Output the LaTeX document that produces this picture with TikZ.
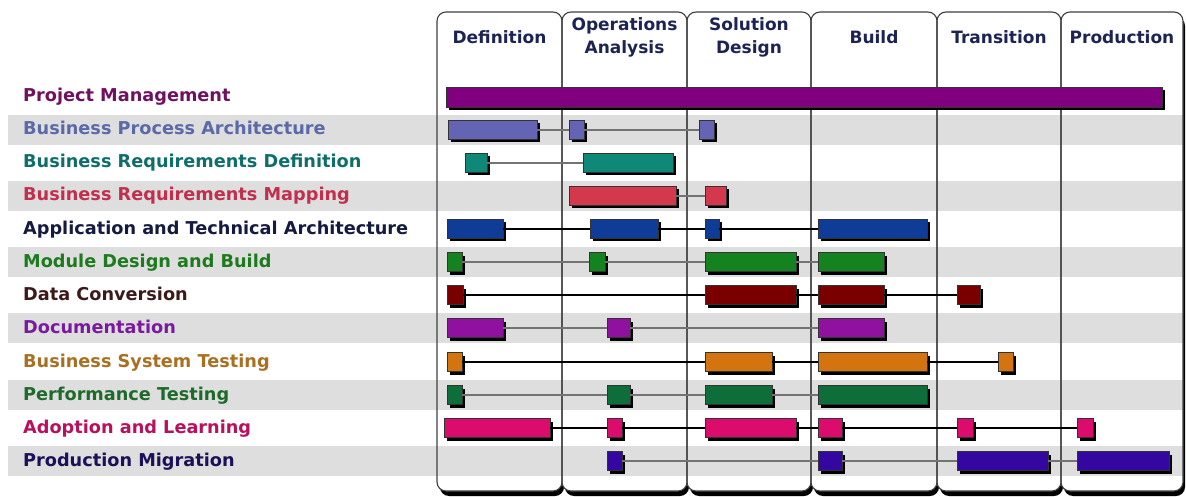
\documentclass[tikz,border=0pt]{standalone}
\usepackage{fontspec}
\setmainfont{DejaVu Sans}
\usetikzlibrary{shadows}

\definecolor{headC}{HTML}{1C2454}
\definecolor{pmC}{HTML}{800080}   \definecolor{pmL}{HTML}{701060}
\definecolor{bpaC}{HTML}{6464B4}  \definecolor{bpaL}{HTML}{5A6AA8}
\definecolor{brdC}{HTML}{108878}  \definecolor{brdL}{HTML}{0E6E6A}
\definecolor{brmC}{HTML}{D4384C}  \definecolor{brmL}{HTML}{C0304C}
\definecolor{ataC}{HTML}{0E3C96}  \definecolor{ataL}{HTML}{141A40}
\definecolor{mdbC}{HTML}{14821E}  \definecolor{mdbL}{HTML}{1E7A1E}
\definecolor{dcC}{HTML}{7A0000}   \definecolor{dcL}{HTML}{3C1A1A}
\definecolor{docC}{HTML}{9010A0}  \definecolor{docL}{HTML}{7A1AA0}
\definecolor{bstC}{HTML}{D47410}  \definecolor{bstL}{HTML}{A87020}
\definecolor{ptC}{HTML}{0E6E3A}   \definecolor{ptL}{HTML}{1E6A2A}
\definecolor{alC}{HTML}{DC0C6C}   \definecolor{alL}{HTML}{B8105C}
\definecolor{prmC}{HTML}{3408A0}  \definecolor{prmL}{HTML}{1C1058}

\begin{document}
\begin{tikzpicture}[x=1pt,y=-1pt,
  phase/.style={draw=black!75,line width=1.1pt,rounded corners=9pt},
  phaseshadow/.style={fill=black,rounded corners=9pt},
  band/.style={fill=black!13,draw=none},
  phasehead/.style={text=headC,font=\fontsize{17}{23}\selectfont\bfseries,align=center,inner sep=0},
  rowlabel/.style={anchor=base west,font=\fontsize{17.7}{20}\selectfont\bfseries,inner sep=0},
  task/.style={rectangle,inner sep=0,minimum height=19pt,draw=black!80,line width=0.6pt,fill=#1,
    drop shadow={shadow xshift=3pt,shadow yshift=-3pt,fill=black,opacity=1}},
  link/.style={draw=black,line width=1.2pt},
  glink/.style={draw=black!55,line width=1.2pt}]
\useasboundingbox (0,0) rectangle (1186,497);

% phase columns
\foreach \xa/\xb in {437/562,562/687,687/811,811/937,937/1061,1061/1183}
  \fill[phaseshadow] (\xa+3,17) rectangle (\xb+2,496);
\foreach \xa/\xb in {437/562,562/687,687/811,811/937,937/1061,1061/1183}
  \fill[white,rounded corners=9pt] (\xa,12) rectangle (\xb,491);
% grey bands
\foreach \y in {130,196,262,328,395,461}
  \fill[band] (8,\y-15) rectangle (1183,\y+15);
\foreach \xa/\xb in {437/562,562/687,687/811,811/937,937/1061,1061/1183}
  \draw[phase] (\xa,12) rectangle (\xb,491);

\node[phasehead] (hdef) at (499.5,37) {Definition};
\node[phasehead] (hops) at (624.5,37) {Operations\\Analysis};
\node[phasehead] (hsol) at (749,37) {Solution\\Design};
\node[phasehead] (hbld) at (874,37) {Build};
\node[phasehead] (htra) at (999,37) {Transition};
\node[phasehead] (hpro) at (1122,37) {Production};

\node[rowlabel,text=pmL]  (lpm)  at (23,102) {Project Management};
\node[rowlabel,text=bpaL] (lbpa) at (23,135) {Business Process Architecture};
\node[rowlabel,text=brdL] (lbrd) at (23,168) {Business Requirements Definition};
\node[rowlabel,text=brmL] (lbrm) at (23,201) {Business Requirements Mapping};
\node[rowlabel,text=ataL] (lata) at (23,234) {Application and Technical Architecture};
\node[rowlabel,text=mdbL] (lmdb) at (23,267) {Module Design and Build};
\node[rowlabel,text=dcL]  (ldc)  at (23,300) {Data Conversion};
\node[rowlabel,text=docL] (ldoc) at (23,333) {Documentation};
\node[rowlabel,text=bstL] (lbst) at (23,367) {Business System Testing};
\node[rowlabel,text=ptL]  (lpt)  at (23,400) {Performance Testing};
\node[rowlabel,text=alL]  (lal)  at (23,433) {Adoption and Learning};
\node[rowlabel,text=prmL] (lprm) at (23,466) {Production Migration};

\node[task=pmC,minimum width=716,minimum height=20pt] (pm) at (804,97) {};

\node[task=bpaC,minimum width=89] (bpa1) at (492.5,130) {};
\node[task=bpaC,minimum width=15] (bpa2) at (576.5,130) {};
\node[task=bpaC,minimum width=15] (bpa3) at (706.5,130) {};
\draw[glink] (bpa1) -- (bpa2) -- (bpa3);

\node[task=brdC,minimum width=22] (brd1) at (476,163) {};
\node[task=brdC,minimum width=90] (brd2) at (628,163) {};
\draw[glink] (brd1) -- (brd2);

\node[task=brmC,minimum width=107] (brm1) at (622.5,196) {};
\node[task=brmC,minimum width=21] (brm2) at (715.5,196) {};
\draw[glink] (brm1) -- (brm2);

\node[task=ataC,minimum width=56] (ata1) at (475,229) {};
\node[task=ataC,minimum width=68] (ata2) at (624,229) {};
\node[task=ataC,minimum width=14] (ata3) at (712,229) {};
\node[task=ataC,minimum width=109] (ata4) at (872.5,229) {};
\draw[link] (ata1) -- (ata2) -- (ata3) -- (ata4);

\node[task=mdbC,minimum width=15] (mdb1) at (454.5,262) {};
\node[task=mdbC,minimum width=16] (mdb2) at (597,262) {};
\node[task=mdbC,minimum width=91] (mdb3) at (750.5,262) {};
\node[task=mdbC,minimum width=66] (mdb4) at (851,262) {};
\draw[glink] (mdb1) -- (mdb2) -- (mdb3) -- (mdb4);

\node[task=dcC,minimum width=16] (dc1) at (455,295) {};
\node[task=dcC,minimum width=91] (dc2) at (750.5,295) {};
\node[task=dcC,minimum width=66] (dc3) at (851,295) {};
\node[task=dcC,minimum width=23] (dc4) at (968.5,295) {};
\draw[link] (dc1) -- (dc2) -- (dc3) -- (dc4);

\node[task=docC,minimum width=56] (doc1) at (475,328) {};
\node[task=docC,minimum width=23] (doc2) at (618.5,328) {};
\node[task=docC,minimum width=66] (doc3) at (851,328) {};
\draw[glink] (doc1) -- (doc2) -- (doc3);

\node[task=bstC,minimum width=15] (bst1) at (454.5,362) {};
\node[task=bstC,minimum width=67] (bst2) at (738.5,362) {};
\node[task=bstC,minimum width=109] (bst3) at (872.5,362) {};
\node[task=bstC,minimum width=15] (bst4) at (1005.5,362) {};
\draw[link] (bst1) -- (bst2) -- (bst3) -- (bst4);

\node[task=ptC,minimum width=15] (pt1) at (454.5,395) {};
\node[task=ptC,minimum width=23] (pt2) at (618.5,395) {};
\node[task=ptC,minimum width=67] (pt3) at (738.5,395) {};
\node[task=ptC,minimum width=109] (pt4) at (872.5,395) {};
\draw[glink] (pt1) -- (pt2) -- (pt3) -- (pt4);

\node[task=alC,minimum width=106] (al1) at (497,428) {};
\node[task=alC,minimum width=15] (al2) at (614.5,428) {};
\node[task=alC,minimum width=91] (al3) at (750.5,428) {};
\node[task=alC,minimum width=24] (al4) at (830,428) {};
\node[task=alC,minimum width=16] (al5) at (965,428) {};
\node[task=alC,minimum width=16] (al6) at (1085,428) {};
\draw[link] (al1) -- (al2) -- (al3) -- (al4) -- (al5) -- (al6);

\node[task=prmC,minimum width=15] (prm1) at (614.5,461) {};
\node[task=prmC,minimum width=24] (prm2) at (830,461) {};
\node[task=prmC,minimum width=91] (prm3) at (1002.5,461) {};
\node[task=prmC,minimum width=92] (prm4) at (1123,461) {};
\draw[glink] (prm1) -- (prm2) -- (prm3) -- (prm4);
\end{tikzpicture}
\end{document}
